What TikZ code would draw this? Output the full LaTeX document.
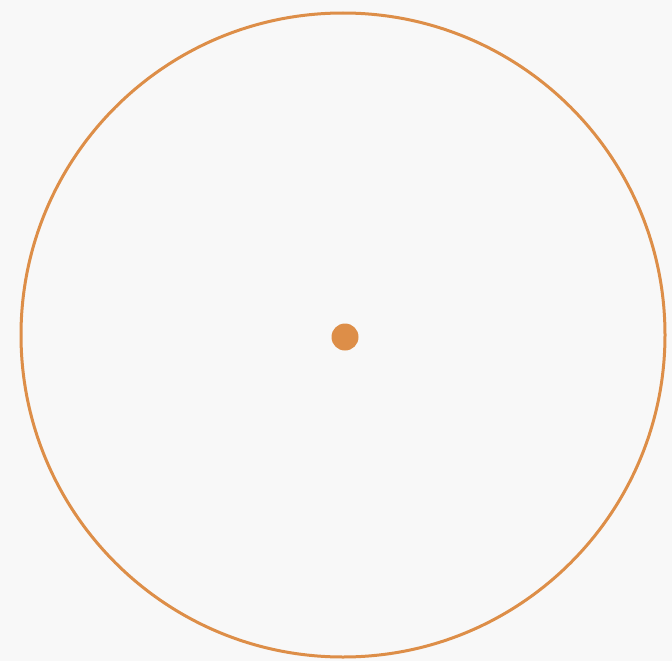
\documentclass[tikz,border=0pt]{standalone}
\usetikzlibrary{positioning}
\definecolor{ringorange}{RGB}{221,142,72}
\definecolor{paper}{RGB}{248,248,248}

\begin{document}
\begin{tikzpicture}[
  x=1pt, y=-1pt,
  ring/.style={draw=ringorange, line width=3pt, circle, minimum size=644pt, inner sep=0pt},
  dot/.style={fill=ringorange, circle, minimum size=27pt, inner sep=0pt},
]

% --- background and bounding box ---
\fill[paper] (0,0) rectangle (672,661);
\useasboundingbox (0,0) rectangle (672,661);

% --- centre point and circle ---
\node[dot] (centre) at (345,337) {};
\node[ring] (circ) at (343,335) {};

\end{tikzpicture}
\end{document}
